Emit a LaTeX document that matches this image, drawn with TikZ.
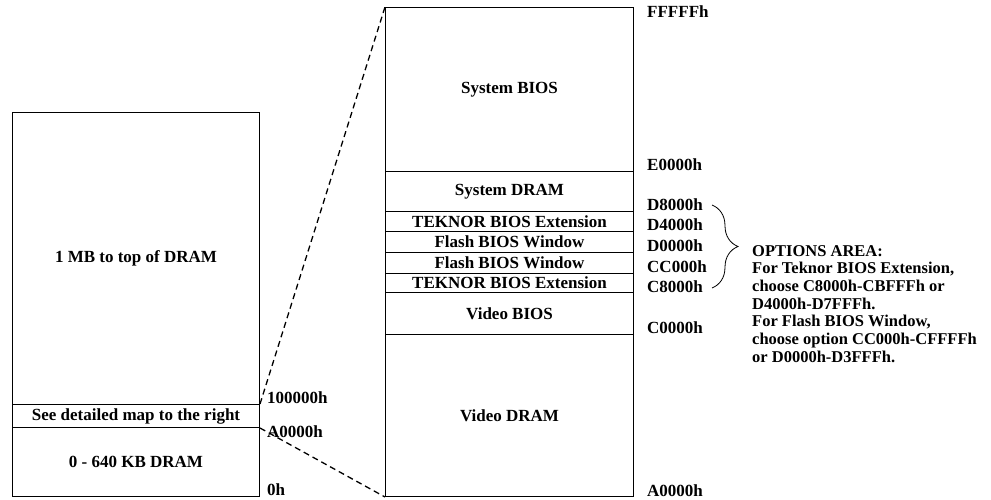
\documentclass[tikz,border=0pt]{standalone}
\usepackage{fontspec}
\setmainfont{Liberation Serif}
\usetikzlibrary{decorations.pathreplacing}

\begin{document}
\begin{tikzpicture}[x=1pt,y=-1pt,font=\fontsize{17}{17.7}\selectfont\bfseries,
  cell/.style={draw=black,line width=1pt,inner sep=0pt,anchor=north west,minimum width=248pt,minimum height=#1},
  addr/.style={anchor=west,inner sep=0pt},
  zoomline/.style={draw=black,line width=1.3pt,dash pattern=on 6pt off 4pt}]
\useasboundingbox (0,0) rectangle (991,500);
% left map
\node[cell=292pt,minimum width=247pt] (ext) at (12,112) {1 MB to top of DRAM};
\node[cell=23pt,minimum width=247pt] (see) at (12,404) {See detailed map to the right};
\node[cell=69pt,minimum width=247pt] (base) at (12,427) {0 - 640 KB DRAM};
\node[addr] (l100000) at (267,398) {100000h};
\node[addr] (la0000) at (267,432) {A0000h};
\node[addr] (l0) at (267,490) {0h};
% detailed map
\node[cell=164pt] (sysbios) at (385,7) {System BIOS};
\node[cell=40pt] (sysdram) at (385,171) {System DRAM};
\node[cell=20pt] (teknorb) at (385,211) {TEKNOR BIOS Extension};
\node[cell=21pt] (flashb) at (385,231) {Flash BIOS Window};
\node[cell=21pt] (flasha) at (385,252) {Flash BIOS Window};
\node[cell=19pt] (teknora) at (385,273) {TEKNOR BIOS Extension};
\node[cell=42pt] (vbios) at (385,292) {Video BIOS};
\node[cell=162pt] (vdram) at (385,334) {Video DRAM};
\node[addr] (rfffff) at (647,12) {FFFFFh};
\node[addr] (re0000) at (647,165) {E0000h};
\node[addr] (rd8000) at (647,205) {D8000h};
\node[addr] (rd4000) at (647,225) {D4000h};
\node[addr] (rd0000) at (647,246) {D0000h};
\node[addr] (rcc000) at (647,267) {CC000h};
\node[addr] (rc8000) at (647,287) {C8000h};
\node[addr] (rc0000) at (647,328) {C0000h};
\node[addr] (ra0000) at (647,491) {A0000h};
% zoom lines
\draw[zoomline] (see.north east) -- (sysbios.north west);
\draw[zoomline] (see.south east) -- (vdram.south west);
% options
\coordinate (bracetop) at (712,205);
\coordinate (bracebot) at (712,288);
\draw[line width=.8pt,decorate,decoration={brace,amplitude=26pt}] (bracetop) -- (bracebot);
\node[anchor=north west,align=left,inner sep=0pt,font=\fontsize{16.5}{17.7}\selectfont\bfseries] (opts) at (752,245) {OPTIONS AREA:\\For Teknor BIOS Extension,\\choose C8000h-CBFFFh or\\D4000h-D7FFFh.\\For Flash BIOS Window,\\choose option CC000h-CFFFFh\\or D0000h-D3FFFh.};
\end{tikzpicture}
\end{document}
